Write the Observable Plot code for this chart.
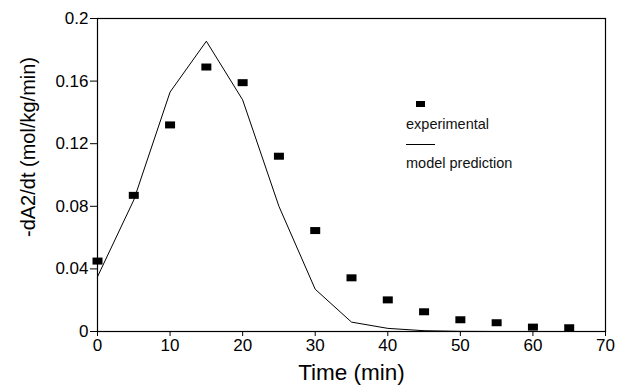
<!DOCTYPE html>
<html>
<head>
<meta charset="utf-8">
<script src="https://cdn.jsdelivr.net/npm/d3@7"></script>
<script src="https://cdn.jsdelivr.net/npm/@observablehq/plot@0.6"></script>
<style>
  html, body { margin: 0; padding: 0; background: #fff; }
  #wrap { position: relative; width: 617px; height: 385px; font-family: "Liberation Sans", Arial, sans-serif; }
  #legend { position: absolute; left: 406px; top: 101px; font-size: 14.5px; color: #111; }
  #legend .sq { position: absolute; left: 10px; top: 0px; width: 9px; height: 6px; background: #000; }
  #legend .t1 { position: absolute; left: 0; top: 15px; white-space: nowrap; }
  #legend .ln { position: absolute; left: 0; top: 43px; width: 29px; height: 1px; background: #000; }
  #legend .t2 { position: absolute; left: 0; top: 54px; white-space: nowrap; }
</style>
</head>
<body>
<div id="wrap"></div>
<script>
// Experimental data (min, -dA2/dt)
const expTime = [0, 5, 10, 15, 20, 25, 30, 35, 40, 45, 50, 55, 60, 65];
const expRate = [0.045, 0.087, 0.132, 0.169, 0.159, 0.112, 0.0645, 0.0343, 0.0202, 0.0126, 0.0075, 0.0056, 0.0028, 0.0024];
// Model prediction
const modelTime = [0, 5, 10, 15, 20, 25, 30, 35, 40, 45, 50, 55, 60, 65];
const modelRate = [0.035, 0.084, 0.153, 0.1855, 0.148, 0.080, 0.027, 0.006, 0.002, 0.0005, 0.0001, 0, 0, 0];
// Ticks and labels
const xTicks = [0, 10, 20, 30, 40, 50, 60, 70];
const yTicks = [0, 0.04, 0.08, 0.12, 0.16, 0.2];
const xTitle = "Time (min)";
const yTitle = "-dA2/dt (mol/kg/min)";
const legendLabels = ["experimental", "model prediction"];

const expData = expTime.map((t, i) => ({t, v: expRate[i]}));
const modelData = modelTime.map((t, i) => ({t, v: modelRate[i]}));

const rectSymbol = {
  draw(ctx, size) {
    const w = Math.sqrt(size * 10 / 7), h = Math.sqrt(size * 7 / 10);
    ctx.moveTo(-w / 2, -h / 2); ctx.lineTo(w / 2, -h / 2); ctx.lineTo(w / 2, h / 2); ctx.lineTo(-w / 2, h / 2); ctx.closePath();
  }
};

const font = "Liberation Sans, Arial, sans-serif";
const chart = Plot.plot({
  width: 617,
  height: 385,
  marginLeft: 97,
  marginRight: 12,
  marginTop: 18,
  marginBottom: 54,
  style: {fontFamily: font, background: "#fff", color: "#000"},
  x: {domain: [0, 70]},
  y: {domain: [0, 0.2]},
  marks: [
    Plot.line(modelData, {x: "t", y: "v", stroke: "#000", strokeWidth: 1}),
    Plot.dot(expData, {x: "t", y: "v", symbol: rectSymbol, r: 4.72, fill: "#000", stroke: "none"}),
    Plot.frame({stroke: "#000", strokeWidth: 1.2}),
    Plot.axisX({ticks: xTicks, tickSize: 5, tickPadding: 2, fontSize: 17, label: null, stroke: "#000", fill: "#000"}),
    Plot.axisY({ticks: yTicks, tickSize: 7, tickPadding: 2, fontSize: 17, label: null, stroke: "#000", fill: "#000",
      tickFormat: d => d === 0 ? "0" : String(+d.toFixed(2))}),
    Plot.text([xTitle], {text: d => d, frameAnchor: "bottom", lineAnchor: "bottom", dy: 48, fontSize: 22.5, fill: "#000"}),
    Plot.text([yTitle], {text: d => d, frameAnchor: "left", textAnchor: "middle", lineAnchor: "middle", rotate: -90, dx: -69, dy: -28, fontSize: 20, fill: "#000"})
  ]
});

const wrap = document.getElementById("wrap");
wrap.appendChild(chart);
const legend = document.createElement("div");
legend.id = "legend";
legend.innerHTML = `<div class="sq"></div><div class="t1">${legendLabels[0]}</div><div class="ln"></div><div class="t2">${legendLabels[1]}</div>`;
wrap.appendChild(legend);
</script>
</body>
</html>
